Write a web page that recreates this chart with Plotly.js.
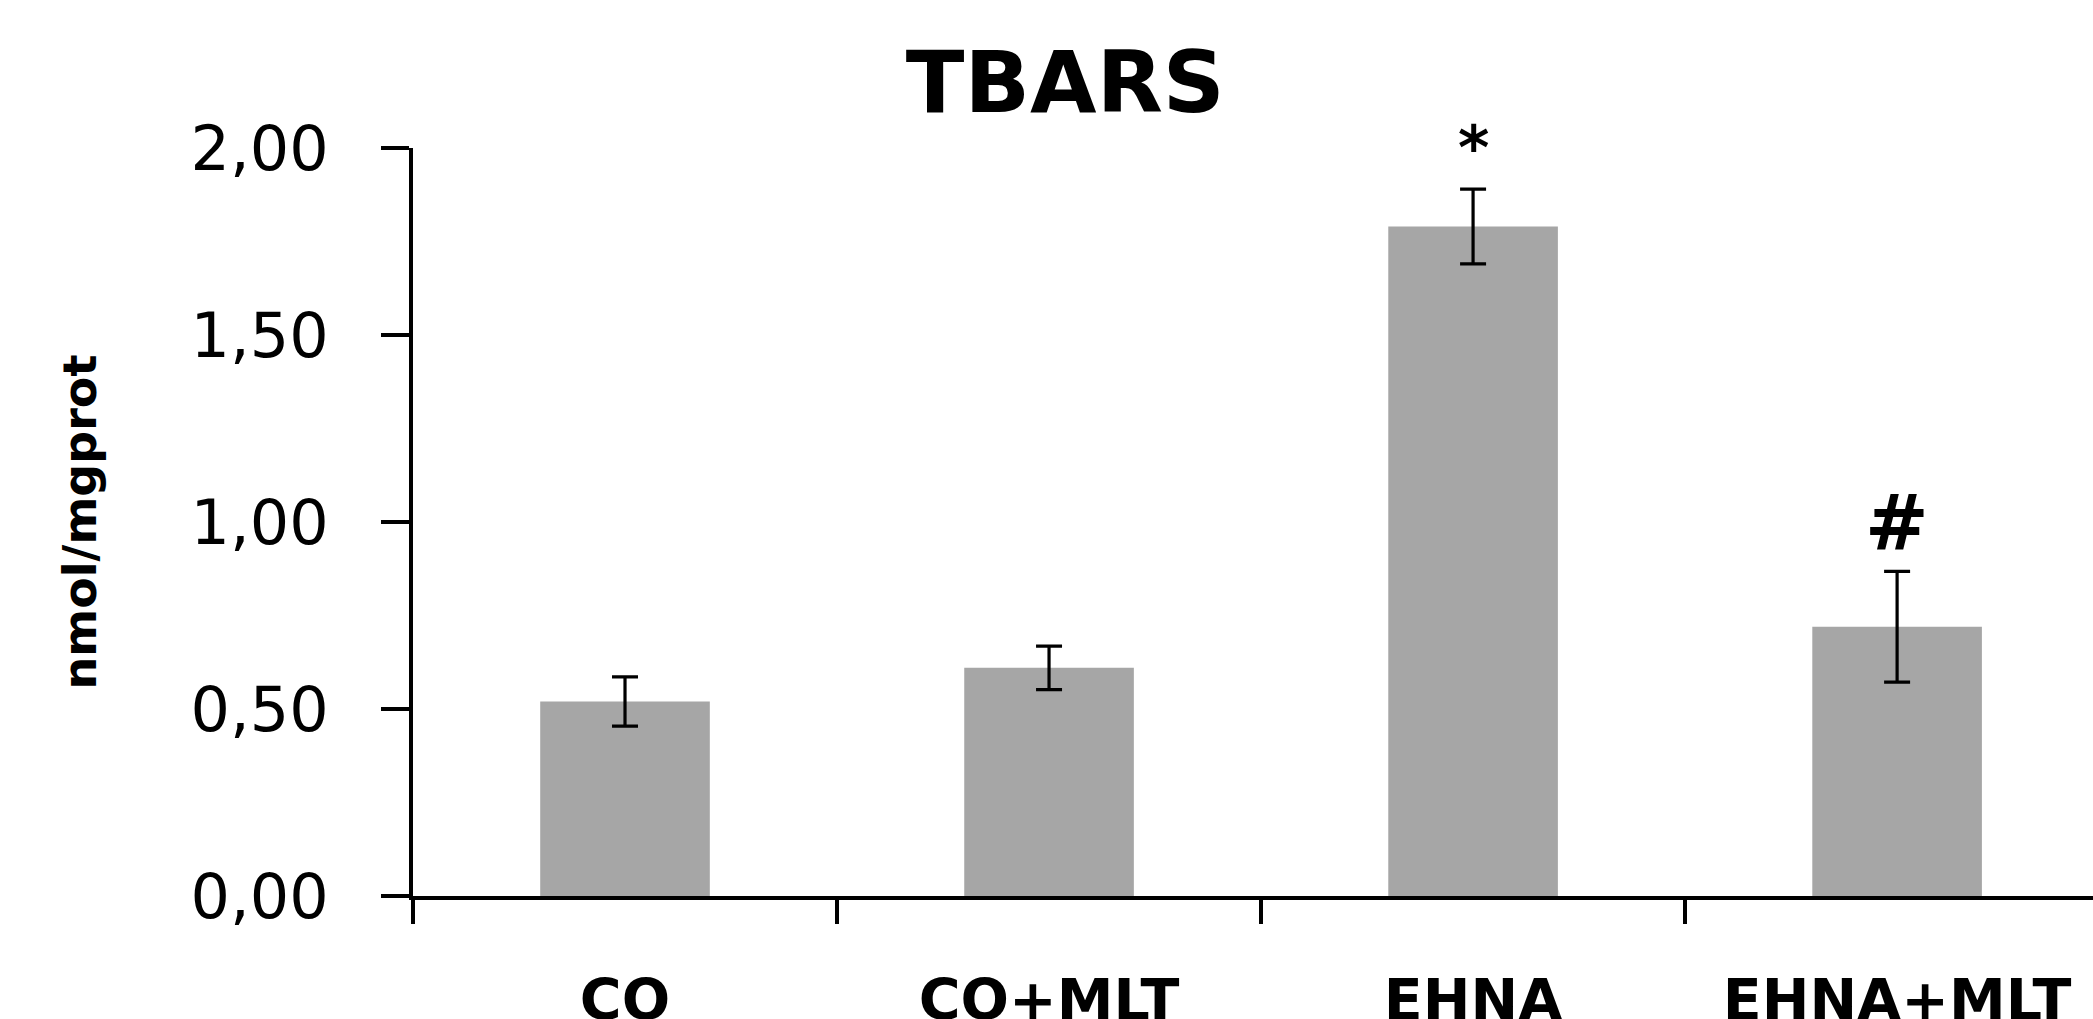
<!DOCTYPE html>
<html>
<head>
<meta charset="utf-8">
<script src="https://cdn.plot.ly/plotly-3.0.1.min.js"></script>
<style>html,body{margin:0;padding:0;background:#fff;}#chart{width:2093px;height:1019px;}</style>
</head>
<body>
<div id="chart"></div>
<script>
const categories = ["CO", "CO+MLT", "EHNA", "EHNA+MLT"];
const means = [0.52, 0.61, 1.79, 0.72];
const errors = [0.066, 0.058, 0.10, 0.148];
const yTickVals = [0, 0.5, 1.0, 1.5, 2.0];
const yTickText = ["0,00", "0,50", "1,00", "1,50", "2,00"];
const markCats = ["EHNA", "EHNA+MLT"];
const markY = [2.0, 1.0];
const markText = ["*", "#"];
const markSizes = [60, 76];

const bars = {
  type: "bar",
  x: categories,
  y: means,
  marker: {color: "#a6a6a6", line: {width: 0}},
  error_y: {type: "data", array: errors, visible: true, color: "#000", thickness: 3.2, width: 13},
  hoverinfo: "none"
};

const layout = {
  width: 2093, height: 1019,
  margin: {l: 413, r: 0, t: 148, b: 123, pad: 0},
  paper_bgcolor: "#fff", plot_bgcolor: "#fff",
  showlegend: false,
  bargap: 0.6,
  title: {text: "<b>TBARS</b>", x: 0.509, xref: "container", xanchor: "center", y: 0.92, yref: "container", yanchor: "middle",
          font: {family: "DejaVu Sans", size: 86, color: "#000"}},
  xaxis: {
    type: "category", range: [-0.5, 3.462], fixedrange: true,
    showline: true, linecolor: "#000", linewidth: 4,
    ticks: "outside", tickson: "boundaries", ticklen: 24, tickwidth: 3.5, tickcolor: "#000",
    showgrid: false, zeroline: false,
    tickfont: {family: "DejaVu Sans", size: 57, color: "#000", weight: "bold"},
    ticklabelstandoff: 52
  },
  yaxis: {
    range: [0, 2], fixedrange: true, automargin: false,
    showline: true, linecolor: "#000", linewidth: 4,
    ticks: "outside", ticklen: 28, tickwidth: 3.5, tickcolor: "#000",
    tickvals: yTickVals, ticktext: yTickText,
    showgrid: false, zeroline: false,
    tickfont: {family: "DejaVu Sans", size: 62, color: "#000"},
    ticklabelstandoff: 40,
    title: {text: "<b>nmol/mgprot</b>", standoff: 80, font: {family: "DejaVu Sans", size: 46, color: "#000"}}
  },
  annotations: markCats.map((c, i) => ({
    x: c, y: markY[i], xref: "x", yref: "y", text: "<b>" + markText[i] + "</b>", showarrow: false,
    xanchor: "center", yanchor: "middle",
    font: {family: "DejaVu Sans", size: markSizes[i], color: "#000"}
  }))
};

Plotly.newPlot("chart", [bars], layout, {staticPlot: true, displayModeBar: false});
</script>
</body>
</html>
